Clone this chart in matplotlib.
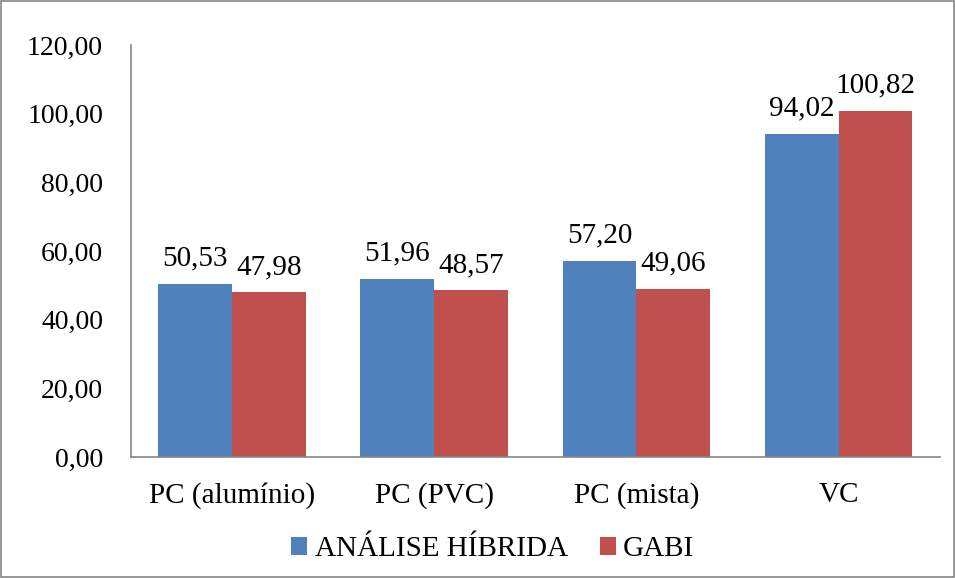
import matplotlib.pyplot as plt
import numpy as np

plt.rcParams['font.family'] = ['Liberation Serif', 'DejaVu Serif']

categories = ['PC (alumínio)', 'PC (PVC)', 'PC (mista)', 'VC']
hibrida = [50.53, 51.96, 57.20, 94.02]
gabi = [47.98, 48.57, 49.06, 100.82]
series_names = ['ANÁLISE HÍBRIDA', 'GABI']
colors = ['#4F81BD', '#C0504D']

fig = plt.figure(figsize=(9.55, 5.78), dpi=100)
ax = fig.add_axes([0.137, 0.209, 0.847, 0.713])

x = np.arange(len(categories))
w = 0.365
b1 = ax.bar(x - w / 2, hibrida, w, color=colors[0], label=series_names[0])
b2 = ax.bar(x + w / 2, gabi, w, color=colors[1], label=series_names[1])


def fmt(v):
    return f'{v:.2f}'.replace('.', ',')


# value labels above the bars
for bars in (b1, b2):
    for r in bars:
        ax.annotate(fmt(r.get_height()), (r.get_x() + r.get_width() / 2, r.get_height()),
                    xytext=(0, 9), textcoords='offset points',
                    ha='center', va='bottom', fontsize=21)

ax.set_xlim(-0.5, len(categories) - 0.5)
ax.set_ylim(0, 120)
ax.set_yticks(np.arange(0, 121, 20))
ax.set_yticklabels([fmt(v) for v in np.arange(0, 121, 20)])
ax.set_xticks(x)
ax.set_xticklabels(categories)
ax.tick_params(axis='y', length=0, labelsize=20, pad=20)
ax.tick_params(axis='x', length=0, labelsize=21, pad=18)

for s in ['top', 'right']:
    ax.spines[s].set_visible(False)
for s in ['left', 'bottom']:
    ax.spines[s].set_color('#868686')
    ax.spines[s].set_linewidth(1.2)

fig.legend(loc='center', bbox_to_anchor=(0.516, 0.05), ncol=2, frameon=False,
           fontsize=21, handlelength=0.55, handleheight=0.55, handletextpad=0.25,
           columnspacing=1.1)

# figure border
fig.patches.append(plt.Rectangle((0.001, 0.001), 0.998, 0.998, transform=fig.transFigure,
                                 fill=False, edgecolor='#868686', linewidth=1.2))

plt.savefig('out.png', dpi=100)
